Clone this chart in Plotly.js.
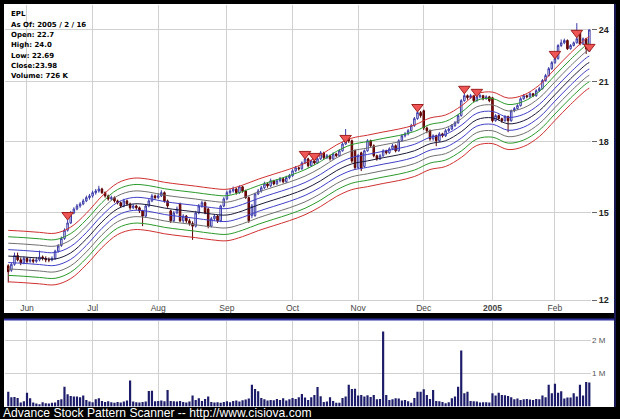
<!DOCTYPE html>
<html><head><meta charset="utf-8">
<script src="https://cdn.plot.ly/plotly-3.0.1.min.js"></script>
<style>html,body{margin:0;padding:0;background:#000;}#chart{width:620px;height:419px;}</style>
</head><body><div id="chart"></div>
<script>
// Trading-day index 0 = 2004-05-21 ... 186 = 2005-02-16
const monthTickIdx = [6, 27, 48, 70, 91, 112, 133, 155, 175];
const monthLabels = ['Jun','Jul','Aug','Sep','Oct','Nov','Dec','<b>2005</b>','Feb'];

const openP = [13.10,12.95,13.15,13.45,13.30,13.20,13.35,13.25,13.30,13.25,
13.30,13.40,13.35,13.30,13.30,13.35,13.60,13.80,14.05,14.35,
14.62,15.00,15.15,15.27,15.35,15.47,15.60,15.67,15.80,15.87,
15.95,15.80,15.67,15.55,15.60,15.47,15.40,15.27,15.47,15.35,
15.20,15.27,15.20,15.08,14.88,15.27,15.47,15.67,15.60,15.67,
15.80,15.47,15.08,14.70,15.00,15.35,14.70,14.88,14.70,14.60,
14.50,15.00,15.27,15.40,15.15,14.50,14.78,14.88,14.70,15.27,
15.55,15.80,15.87,15.95,15.80,16.04,15.87,15.60,14.90,14.90,
15.75,15.87,16.00,16.16,16.08,16.29,16.16,16.29,16.37,16.25,
16.42,16.50,16.71,16.84,16.80,17.05,17.23,16.93,17.14,17.05,
17.23,17.50,17.28,17.37,17.23,17.45,17.37,17.59,17.90,18.14,
18.05,17.60,16.85,17.50,16.90,17.59,18.05,17.82,17.37,17.23,
17.37,17.59,17.50,17.68,17.82,17.59,18.05,18.28,18.37,18.52,
18.76,19.10,19.40,19.49,18.65,18.52,18.14,18.28,18.05,18.37,
18.28,18.52,18.60,18.76,18.90,19.25,20.00,20.26,20.16,20.26,
20.00,20.20,20.26,20.10,20.20,20.15,19.00,19.25,19.10,19.00,
19.20,19.00,19.49,19.60,19.75,20.10,20.26,20.20,20.36,20.26,
20.52,20.63,21.06,21.33,21.71,22.05,22.28,23.04,23.20,23.34,
22.85,23.04,23.20,23.80,23.13,23.44,22.70];

const highP = [13.15,13.20,13.55,13.55,13.38,13.42,13.40,13.38,13.35,13.40,
13.62,13.45,13.42,13.38,13.42,13.65,13.85,14.12,14.42,14.75,
15.08,15.22,15.35,15.42,15.55,15.68,15.75,15.88,15.95,16.08,
16.00,15.85,15.72,15.68,15.65,15.52,15.45,15.55,15.52,15.40,
15.35,15.32,15.25,15.12,15.32,15.55,15.75,15.72,15.78,15.90,
15.85,15.52,15.12,15.08,15.25,15.40,14.95,14.92,14.78,14.68,
15.08,15.35,15.48,15.45,15.20,14.85,14.95,14.92,15.32,15.62,
15.88,15.95,16.05,16.00,16.10,16.08,15.92,15.65,15.35,15.80,
15.95,16.08,16.25,16.22,16.38,16.33,16.36,16.45,16.42,16.50,
16.58,16.78,16.92,16.90,17.12,17.30,17.28,17.20,17.22,17.30,
17.58,17.55,17.45,17.42,17.52,17.50,17.66,17.98,18.60,18.20,
18.10,17.65,17.45,17.55,17.65,18.12,18.10,17.88,17.42,17.45,
17.66,17.64,17.75,17.90,17.88,18.12,18.35,18.45,18.60,18.85,
19.18,19.58,19.48,19.55,18.72,18.58,18.35,18.33,18.45,18.42,
18.60,18.68,18.84,18.98,19.32,20.08,20.42,20.32,20.35,20.30,
20.30,20.35,20.30,20.28,20.25,20.20,19.32,19.30,19.15,19.28,
19.25,19.55,19.68,19.82,20.18,20.34,20.32,20.44,20.40,20.60,
20.72,21.14,21.42,21.80,22.14,22.36,23.12,23.40,23.45,23.40,
23.12,23.28,24.40,23.88,23.52,23.50,24.00];

const lowP = [12.55,12.90,13.10,13.25,13.12,13.15,13.18,13.20,13.18,13.20,
13.25,13.28,13.22,13.22,13.25,13.30,13.55,13.75,14.00,14.30,
14.58,14.95,15.10,15.20,15.30,15.42,15.52,15.60,15.72,15.80,
15.75,15.60,15.48,15.50,15.40,15.33,15.20,15.22,15.28,15.12,
15.15,15.12,15.00,14.50,14.82,15.22,15.42,15.52,15.55,15.62,
15.40,15.20,14.62,14.65,14.95,14.65,14.62,14.62,14.52,14.00,
14.45,14.95,15.20,14.95,14.42,14.45,14.70,14.62,14.65,15.22,
15.50,15.72,15.80,15.72,15.75,15.80,15.55,14.62,14.80,14.85,
15.70,15.80,15.95,16.00,16.02,16.10,16.12,16.22,16.18,16.20,
16.35,16.45,16.65,16.72,16.75,17.00,16.85,16.88,16.98,17.00,
17.18,17.20,17.22,17.15,17.18,17.30,17.32,17.55,17.85,17.95,
17.05,16.75,16.80,16.70,16.85,17.55,17.75,17.30,17.15,17.18,
17.32,17.42,17.45,17.62,17.52,17.55,18.00,18.20,18.30,18.48,
18.70,19.05,19.15,18.55,18.40,18.05,18.05,17.80,18.00,18.20,
18.22,18.45,18.55,18.70,18.85,19.20,19.95,20.05,20.10,19.92,
19.95,20.12,20.02,20.05,19.92,18.92,18.95,19.02,18.90,18.95,
18.45,18.95,19.42,19.55,19.70,20.05,20.12,20.15,20.18,20.20,
20.45,20.58,21.00,21.28,21.65,21.98,22.22,22.95,23.12,22.78,
22.80,22.98,23.15,23.05,23.08,22.55,22.69];

const closeP = [12.90,13.15,13.45,13.30,13.20,13.35,13.25,13.30,13.25,13.30,
13.40,13.35,13.30,13.30,13.35,13.60,13.78,14.05,14.35,14.62,
15.00,15.15,15.27,15.35,15.47,15.60,15.67,15.80,15.87,15.95,
15.80,15.67,15.55,15.60,15.47,15.40,15.27,15.47,15.35,15.20,
15.27,15.20,15.08,14.88,15.27,15.47,15.67,15.60,15.67,15.80,
15.47,15.27,14.70,15.00,15.15,14.70,14.88,14.70,14.60,14.50,
15.00,15.27,15.40,15.00,14.50,14.78,14.88,14.70,15.27,15.55,
15.80,15.87,15.95,15.80,16.04,15.87,15.60,14.70,15.27,15.75,
15.87,16.00,16.16,16.08,16.29,16.16,16.29,16.37,16.25,16.42,
16.50,16.71,16.84,16.80,17.05,17.23,16.93,17.14,17.05,17.23,
17.50,17.28,17.37,17.23,17.45,17.37,17.59,17.90,18.14,18.05,
17.14,16.85,17.37,16.80,17.59,18.05,17.82,17.37,17.23,17.37,
17.59,17.50,17.68,17.82,17.59,18.05,18.28,18.37,18.52,18.76,
19.10,19.40,19.25,18.65,18.52,18.14,18.28,18.05,18.37,18.28,
18.52,18.60,18.76,18.90,19.25,20.00,20.26,20.16,20.26,20.00,
20.20,20.26,20.10,20.20,20.00,19.00,19.25,19.10,19.00,19.20,
19.00,19.49,19.60,19.75,20.10,20.26,20.20,20.36,20.26,20.52,
20.63,21.06,21.33,21.71,22.05,22.28,23.04,23.20,23.34,22.85,
23.04,23.20,23.44,23.13,23.44,22.85,23.98];

// volume in thousands of shares
const volumeK = [450,280,290,260,120,160,420,250,120,90,
70,130,100,90,110,120,200,220,600,370,
320,300,300,280,330,200,150,130,220,250,
170,140,160,130,110,140,120,150,180,790,
150,130,120,140,150,470,480,160,170,180,
160,500,170,160,150,170,140,120,150,330,
200,250,170,230,300,140,120,130,110,140,
160,130,170,180,150,190,210,240,660,530,
460,260,220,180,200,190,230,200,250,180,
220,260,230,280,380,270,200,280,350,590,
310,140,150,280,170,110,110,260,300,660,
530,540,330,350,300,340,290,350,220,230,
2270,350,200,220,250,240,180,200,160,110,
260,450,450,520,350,230,500,170,160,140,
100,130,250,300,600,1700,400,450,170,160,
150,120,130,130,120,400,330,420,350,340,
320,280,220,240,200,220,230,210,200,230,
220,330,280,660,400,690,420,460,240,270,
270,400,300,660,330,740,726];

// envelope centre line (moving average) sampled every 5 trading days
const bandIdx = [0,5,10,15,20,25,30,35,40,45,50,55,60,65,70,75,80,85,90,95,100,105,110,115,120,125,130,135,140,145,150,155,160,165,170,175,180,185,186];
const bandMid = [13.43,13.40,13.36,13.33,13.54,14.03,14.66,15.16,15.35,15.31,15.19,15.11,15.04,14.96,14.92,15.08,15.31,15.51,15.71,15.95,16.29,16.71,17.01,17.14,17.28,17.41,17.59,17.91,18.05,18.47,19.05,19.14,18.85,19.00,19.49,20.31,21.16,21.95,22.06];
const bandSteps = [4,3,2,1,0,-1,-2,-3,-4];
const bandColors = ['#d03030','#2a9a2a','#707070','#4040c8','#1a1a3a','#4040c8','#707070','#2a9a2a','#d03030'];
const bandStepPct = 0.0165;

// signal markers
const sigIdx = [19,95,98,108,131,146,150,175,182,186];
const sigPrice = [14.92,17.45,17.36,18.18,19.68,20.62,20.46,22.55,23.80,22.96];

const infoLines = ['EPL','As Of: 2005 / 2 / 16','Open: 22.7','High: 24.0','Low: 22.69','Close:23.98','Volume: 726 K'];

const W = 620, H = 419;
const px = v => v / W, py = v => 1 - v / H;
const idx = closeP.map((_, i) => i);
const xRange = [-1.04, 186.54];
const FONT = 'Liberation Sans, Arial, sans-serif';

const traces = [];
bandSteps.forEach((k, j) => {
  traces.push({
    type: 'scatter', mode: 'lines', x: bandIdx,
    y: bandMid.map(v => v * Math.exp(k * bandStepPct)),
    line: {color: bandColors[j], width: 1, shape: 'spline', smoothing: 1},
    xaxis: 'x', yaxis: 'y', hoverinfo: 'skip'
  });
});
traces.push({
  type: 'candlestick', x: idx, open: openP, high: highP, low: lowP, close: closeP,
  xaxis: 'x', yaxis: 'y', whiskerwidth: 0,
  increasing: {line: {color: '#3a3aa8', width: 1}, fillcolor: '#ffffff'},
  decreasing: {line: {color: '#5a0000', width: 1}, fillcolor: '#8a0a0a'}
});
traces.push({
  type: 'scatter', mode: 'markers', x: sigIdx, y: sigPrice, cliponaxis: false,
  marker: {symbol: 'triangle-down', size: 10, color: '#ee5555', line: {color: '#a02020', width: 1}},
  xaxis: 'x', yaxis: 'y'
});
traces.push({
  type: 'bar', x: idx, y: volumeK, width: 0.7,
  marker: {color: '#1c1c6a', line: {width: 0}},
  xaxis: 'x2', yaxis: 'y2'
});

const shapes = [
  {type:'rect', xref:'paper', yref:'paper', x0:px(4), x1:px(614), y0:py(313), y1:py(4), fillcolor:'#ffffff', line:{width:0}, layer:'below'},
  {type:'rect', xref:'paper', yref:'paper', x0:px(4), x1:px(614), y0:py(407), y1:py(320), fillcolor:'#ffffff', line:{width:0}, layer:'below'},
  {type:'line', xref:'paper', yref:'paper', x0:px(4), x1:px(614), y0:py(319.5), y1:py(319.5), line:{color:'#3030a0', width:2}},
  {type:'line', xref:'paper', yref:'paper', x0:px(615), x1:px(615), y0:py(407), y1:py(4), line:{color:'#202070', width:1.5}}
];

const annotations = infoLines.map((t, i) => ({
  xref:'paper', yref:'paper', x: px(9), y: py(14.5 + i * 10.3), xanchor:'left', yanchor:'middle',
  text: t, showarrow:false, font:{family:'DejaVu Sans, sans-serif', size:7, color:'#000', weight:'bold'}
}));
annotations.push({
  xref:'paper', yref:'paper', x: px(1), y: py(413), xanchor:'left', yanchor:'middle',
  text:'Advance Stock Pattern Scanner -- http://www.cisiova.com', showarrow:false,
  font:{family:FONT, size:12.1, color:'#ffffff'}
});

const grid = '#d0d0d0';
const layout = {
  width: W, height: H, margin: {l:0, r:0, t:0, b:0},
  paper_bgcolor: '#000000', plot_bgcolor: 'rgba(0,0,0,0)', showlegend: false,
  xaxis: {domain:[px(5), px(591)], range:xRange, anchor:'y', tickmode:'array', tickvals:monthTickIdx, ticktext:monthLabels,
    showgrid:true, gridcolor:grid, zeroline:false, ticks:'', showline:true, linecolor:grid, linewidth:1,
    tickfont:{family:FONT, size:8.5, color:'#444'}, rangeslider:{visible:false}, fixedrange:true},
  yaxis: {domain:[py(300), py(5)], type:'log', range:[Math.log10(12), Math.log10(25.56)], anchor:'x', side:'right',
    tickmode:'array', tickvals:[12,15,18,21,24], ticktext:['12','15','18','21','24'], ticks:'outside', ticklen:5, tickcolor:'#666',
    showgrid:true, gridcolor:grid, zeroline:false, tickfont:{family:FONT, size:9, color:'#222', weight:'bold'}, fixedrange:true},
  xaxis2: {domain:[px(5), px(591)], range:xRange, anchor:'y2', tickmode:'array', tickvals:monthTickIdx, showticklabels:false,
    showgrid:true, gridcolor:grid, zeroline:false, ticks:'', fixedrange:true},
  yaxis2: {domain:[py(406.5), py(321)], range:[0, 2590], anchor:'x2', side:'right', tickmode:'array', tickvals:[1000,2000], ticktext:['1 M','2 M'],
    showgrid:true, gridcolor:grid, zeroline:false, ticks:'', tickfont:{family:FONT, size:8, color:'#555'}, fixedrange:true},
  shapes: shapes, annotations: annotations
};

Plotly.newPlot('chart', traces, layout, {staticPlot:true, displayModeBar:false});
</script></body></html>
